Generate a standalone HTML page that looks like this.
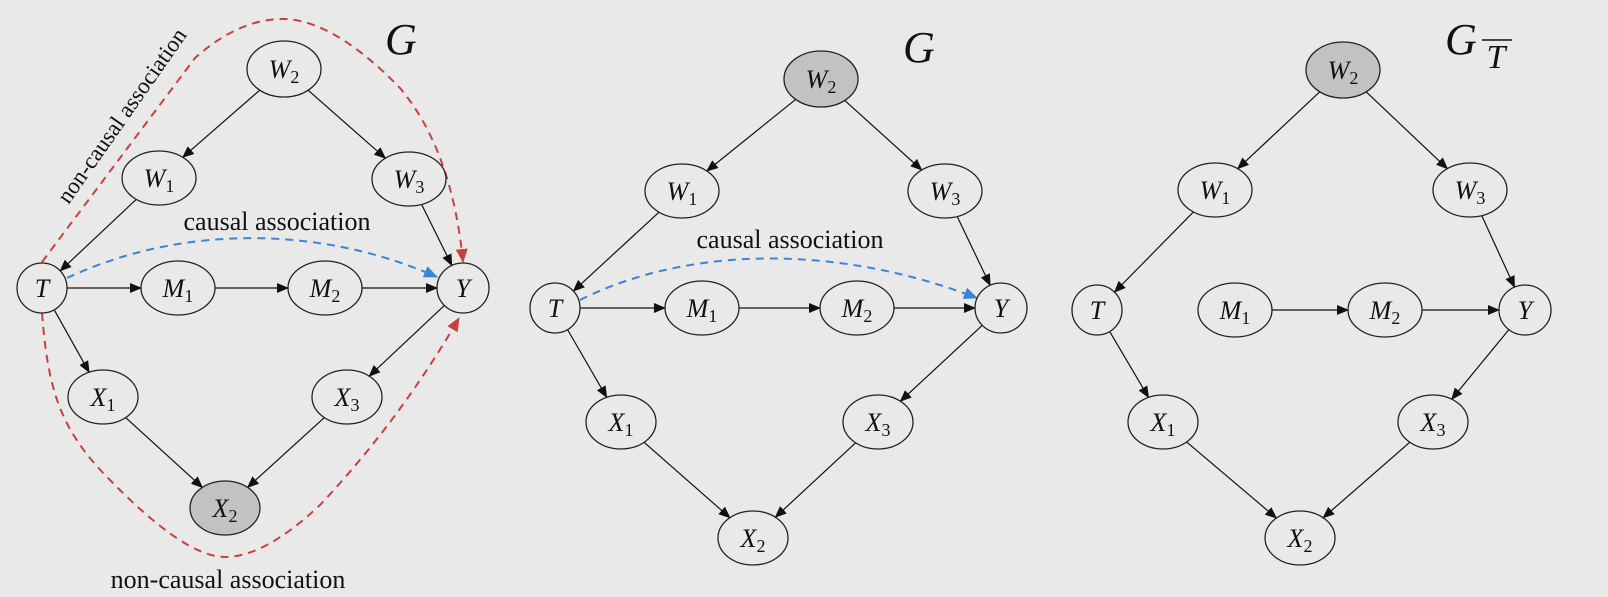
<!DOCTYPE html>
<html><head><meta charset="utf-8"><style>
html,body{margin:0;padding:0;background:#e9e9e9;}
svg{display:block;}
.n{fill:none;stroke:#222;stroke-width:1.3;}
.g{fill:#c2c2c2;stroke:#222;stroke-width:1.3;}
.t{font-family:"Liberation Serif",serif;font-style:italic;font-size:26px;fill:#111;text-anchor:middle;}
.s{font-style:normal;font-size:18px;}
.lab{font-family:"Liberation Serif",serif;font-size:26px;fill:#111;}
.big{font-family:"Liberation Serif",serif;font-style:italic;font-size:44px;fill:#111;}
</style></head><body>
<svg id="svg" width="1608" height="597" viewBox="0 0 1608 597" xmlns="http://www.w3.org/2000/svg">
<defs>
<marker id="ak" markerWidth="12" markerHeight="10" refX="11" refY="5" orient="auto" markerUnits="userSpaceOnUse"><path d="M0,0 L12,5 L0,10 z" fill="#111"/></marker>
<marker id="ar" markerWidth="14" markerHeight="12" refX="13" refY="6" orient="auto" markerUnits="userSpaceOnUse"><path d="M0,0 L14,6 L0,12 z" fill="#c94040"/></marker>
<marker id="ab" markerWidth="14" markerHeight="12" refX="13" refY="6" orient="auto" markerUnits="userSpaceOnUse"><path d="M0,0 L14,6 L0,12 z" fill="#3a86d4"/></marker>
</defs>
<g id="edges"></g>
<path d="M42,262 L195,58 Q240,18 285,19 Q335,21 400,88 Q452,150 463,262" fill="none" stroke="#c94040" stroke-width="2" stroke-dasharray="8,6" marker-end="url(#ar)"/>
<path d="M42,313 C48,390 60,430 110,480 Q185,557 225,557 Q265,557 320,505 Q400,420 459,318" fill="none" stroke="#c94040" stroke-width="2" stroke-dasharray="8,6" marker-end="url(#ar)"/>
<path d="M67,278 C180,225 320,225 437,277" fill="none" stroke="#3a86d4" stroke-width="2" stroke-dasharray="8,6" marker-end="url(#ab)"/>
<path d="M580,300 C690,245 840,245 977,298" fill="none" stroke="#3a86d4" stroke-width="2" stroke-dasharray="8,6" marker-end="url(#ab)"/>
<g id="nodes"></g>
<text class="lab" x="277" y="230" text-anchor="middle">causal association</text>
<text class="lab" x="790" y="248" text-anchor="middle">causal association</text>
<text class="lab" x="228" y="588" text-anchor="middle">non-causal association</text>
<text class="lab" text-anchor="middle" style="font-size:23px" transform="translate(128,120) rotate(-55)">non-causal association</text>
<text class="big" x="385" y="54">G</text>
<text class="big" x="903" y="62">G</text>
<text class="big" x="1445" y="54">G</text>
<text class="t" x="1496" y="68" style="font-size:34px">T</text>
<line x1="1482" y1="40" x2="1512" y2="40" stroke="#111" stroke-width="1.5"/>
<g>
<text class="t" x="284" y="78">W<tspan class="s" dy="5">2</tspan></text>
<text class="t" x="159" y="187">W<tspan class="s" dy="5">1</tspan></text>
<text class="t" x="409" y="188">W<tspan class="s" dy="5">3</tspan></text>
<text class="t" x="42" y="297">T</text>
<text class="t" x="178" y="297">M<tspan class="s" dy="5">1</tspan></text>
<text class="t" x="325" y="297">M<tspan class="s" dy="5">2</tspan></text>
<text class="t" x="463" y="297">Y</text>
<text class="t" x="103" y="406">X<tspan class="s" dy="5">1</tspan></text>
<text class="t" x="347" y="406">X<tspan class="s" dy="5">3</tspan></text>
<text class="t" x="225" y="517">X<tspan class="s" dy="5">2</tspan></text>

<text class="t" x="821" y="88">W<tspan class="s" dy="5">2</tspan></text>
<text class="t" x="682" y="200">W<tspan class="s" dy="5">1</tspan></text>
<text class="t" x="945" y="200">W<tspan class="s" dy="5">3</tspan></text>
<text class="t" x="555" y="317">T</text>
<text class="t" x="702" y="317">M<tspan class="s" dy="5">1</tspan></text>
<text class="t" x="857" y="317">M<tspan class="s" dy="5">2</tspan></text>
<text class="t" x="1001" y="317">Y</text>
<text class="t" x="621" y="431">X<tspan class="s" dy="5">1</tspan></text>
<text class="t" x="878" y="431">X<tspan class="s" dy="5">3</tspan></text>
<text class="t" x="753" y="547">X<tspan class="s" dy="5">2</tspan></text>

<text class="t" x="1343" y="79">W<tspan class="s" dy="5">2</tspan></text>
<text class="t" x="1215" y="199">W<tspan class="s" dy="5">1</tspan></text>
<text class="t" x="1470" y="199">W<tspan class="s" dy="5">3</tspan></text>
<text class="t" x="1097" y="319">T</text>
<text class="t" x="1235" y="319">M<tspan class="s" dy="5">1</tspan></text>
<text class="t" x="1385" y="319">M<tspan class="s" dy="5">2</tspan></text>
<text class="t" x="1525" y="319">Y</text>
<text class="t" x="1163" y="431">X<tspan class="s" dy="5">1</tspan></text>
<text class="t" x="1433" y="431">X<tspan class="s" dy="5">3</tspan></text>
<text class="t" x="1300" y="547">X<tspan class="s" dy="5">2</tspan></text>
</g>
</svg>
<script>
var NS="http://www.w3.org/2000/svg";
function D(p){return {W2:[p.W2,37,28],W1:[p.W1,37,27],W3:[p.W3,37,27],T:[p.T,25,25],M1:[p.M1,37,27],M2:[p.M2,37,27],Y:[p.Y,26,25],X1:[p.X1,35,27],X3:[p.X3,35,27],X2:[p.X2,35,27]};}
var diags=[
 {n:D({W2:[284,69],W1:[159,178],W3:[409,179],T:[42,288],M1:[178,288],M2:[325,288],Y:[463,288],X1:[103,397],X3:[347,397],X2:[225,508]}),gray:["X2"],e:[["W2","W1"],["W2","W3"],["W1","T"],["W3","Y"],["T","M1"],["M1","M2"],["M2","Y"],["T","X1"],["Y","X3"],["X1","X2"],["X3","X2"]]},
 {n:D({W2:[821,79],W1:[682,191],W3:[945,191],T:[555,308],M1:[702,308],M2:[857,308],Y:[1001,308],X1:[621,422],X3:[878,422],X2:[753,538]}),gray:["W2"],e:[["W2","W1"],["W2","W3"],["W1","T"],["W3","Y"],["T","M1"],["M1","M2"],["M2","Y"],["T","X1"],["Y","X3"],["X1","X2"],["X3","X2"]]},
 {n:D({W2:[1343,70],W1:[1215,190],W3:[1470,190],T:[1097,310],M1:[1235,310],M2:[1385,310],Y:[1525,310],X1:[1163,422],X3:[1433,422],X2:[1300,538]}),gray:["W2"],e:[["W2","W1"],["W2","W3"],["W1","T"],["W3","Y"],["M1","M2"],["M2","Y"],["T","X1"],["Y","X3"],["X1","X2"],["X3","X2"]]}
];
var eg=document.getElementById("edges"),ng=document.getElementById("nodes");
function bd(n,dx,dy){var rx=n[1],ry=n[2];var t=1/Math.sqrt(dx*dx/(rx*rx)+dy*dy/(ry*ry));return [n[0][0]+dx*t,n[0][1]+dy*t];}
diags.forEach(function(d){
 for(var k in d.n){var n=d.n[k];var e=document.createElementNS(NS,"ellipse");e.setAttribute("cx",n[0][0]);e.setAttribute("cy",n[0][1]);e.setAttribute("rx",n[1]);e.setAttribute("ry",n[2]);e.setAttribute("class",d.gray.indexOf(k)>=0?"g":"n");ng.appendChild(e);}
 d.e.forEach(function(p){var a=d.n[p[0]],b=d.n[p[1]];var dx=b[0][0]-a[0][0],dy=b[0][1]-a[0][1];var s=bd(a,dx,dy),t=bd(b,-dx,-dy);var l=document.createElementNS(NS,"line");l.setAttribute("x1",s[0]);l.setAttribute("y1",s[1]);l.setAttribute("x2",t[0]);l.setAttribute("y2",t[1]);l.setAttribute("stroke","#111");l.setAttribute("stroke-width","1.2");l.setAttribute("marker-end","url(#ak)");eg.appendChild(l);});
});
</script>
</body></html>
